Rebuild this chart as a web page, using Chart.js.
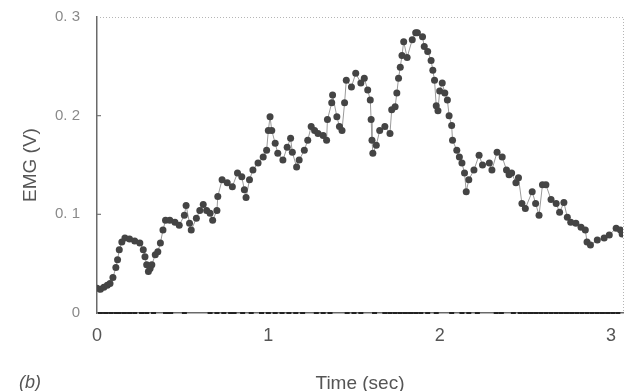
<!DOCTYPE html>
<html>
<head>
<meta charset="utf-8">
<script src="https://cdn.jsdelivr.net/npm/chart.js@4"></script>
<style>
  html, body { margin: 0; padding: 0; background: #fff; }
  #emgChart { display: block; }
</style>
</head>
<body>
<canvas id="emgChart" width="629" height="391"></canvas>
<script>
// EMG trace (time in sec, amplitude in V)
const times = [0.00, 0.02, 0.04, 0.06, 0.076, 0.093, 0.11, 0.12, 0.13, 0.145, 0.163, 0.19, 0.22, 0.25, 0.27, 0.28, 0.29, 0.30, 0.31, 0.32,
  0.34, 0.355, 0.37, 0.385, 0.40, 0.425, 0.455, 0.48, 0.51, 0.52, 0.54, 0.55, 0.58, 0.60, 0.62, 0.64, 0.66, 0.675, 0.70, 0.705,
  0.73, 0.76, 0.79, 0.82, 0.845, 0.86, 0.87, 0.89, 0.91, 0.94, 0.97, 0.99, 1.00, 1.01, 1.02, 1.04, 1.055, 1.085, 1.11, 1.13,
  1.14, 1.165, 1.18, 1.21, 1.23, 1.25, 1.27, 1.29, 1.32, 1.34, 1.345, 1.37, 1.375, 1.40, 1.415, 1.43, 1.445, 1.455, 1.485, 1.51,
  1.54, 1.56, 1.58, 1.595, 1.60, 1.605, 1.61, 1.63, 1.65, 1.68, 1.71, 1.72, 1.74, 1.75, 1.76, 1.77, 1.78, 1.79, 1.81, 1.84,
  1.86, 1.87, 1.90, 1.91, 1.93, 1.95, 1.96, 1.97, 1.98, 1.99, 2.00, 2.015, 2.03, 2.045, 2.055, 2.07, 2.075, 2.10, 2.115, 2.13,
  2.145, 2.155, 2.17, 2.20, 2.23, 2.25, 2.29, 2.305, 2.335, 2.365, 2.39, 2.405, 2.42, 2.445, 2.46, 2.48, 2.50, 2.54, 2.56, 2.58,
  2.60, 2.62, 2.65, 2.68, 2.70, 2.725, 2.745, 2.765, 2.795, 2.825, 2.85, 2.86, 2.88, 2.92, 2.96, 2.99, 3.03, 3.055, 3.065];
const emg = [0.025, 0.024, 0.026, 0.028, 0.030, 0.036, 0.046, 0.054, 0.064, 0.072, 0.076, 0.075, 0.073, 0.071, 0.064, 0.057, 0.049, 0.042, 0.045, 0.049,
  0.059, 0.062, 0.071, 0.084, 0.094, 0.094, 0.092, 0.089, 0.099, 0.109, 0.091, 0.084, 0.096, 0.104, 0.110, 0.104, 0.101, 0.094, 0.104, 0.118,
  0.135, 0.132, 0.128, 0.142, 0.138, 0.125, 0.117, 0.135, 0.145, 0.152, 0.158, 0.165, 0.185, 0.199, 0.185, 0.172, 0.162, 0.155, 0.168, 0.177,
  0.163, 0.148, 0.155, 0.165, 0.175, 0.189, 0.185, 0.182, 0.180, 0.175, 0.196, 0.213, 0.221, 0.199, 0.189, 0.185, 0.213, 0.236, 0.229, 0.243,
  0.233, 0.238, 0.226, 0.216, 0.196, 0.175, 0.162, 0.170, 0.185, 0.189, 0.182, 0.206, 0.209, 0.223, 0.238, 0.249, 0.261, 0.275, 0.259, 0.277,
  0.284, 0.284, 0.280, 0.270, 0.265, 0.256, 0.246, 0.236, 0.210, 0.205, 0.225, 0.233, 0.223, 0.216, 0.200, 0.190, 0.175, 0.165, 0.158, 0.152,
  0.142, 0.123, 0.135, 0.145, 0.160, 0.150, 0.152, 0.145, 0.163, 0.158, 0.145, 0.140, 0.142, 0.132, 0.137, 0.111, 0.106, 0.123, 0.111, 0.099,
  0.130, 0.130, 0.115, 0.111, 0.102, 0.112, 0.097, 0.092, 0.091, 0.087, 0.084, 0.072, 0.069, 0.074, 0.076, 0.079, 0.086, 0.084, 0.080];

// short marks sitting on the time axis
const eventTimes = [0.02, 0.05, 0.08, 0.11, 0.13, 0.16, 0.19, 0.22, 0.26, 0.29, 0.33, 0.40, 0.42, 0.43, 0.51,
  0.66, 0.70, 0.74, 0.78, 0.80, 0.85, 0.90, 0.96, 1.00, 1.04, 1.08, 1.12, 1.16, 1.20, 1.28, 1.32, 1.36,
  1.46, 1.50, 1.54, 1.62, 1.68, 1.71, 1.74, 1.77, 1.80, 1.83, 1.86, 1.89, 1.93, 1.98, 2.07, 2.13, 2.17, 2.22,
  2.33, 2.36, 2.43, 2.47, 2.50, 2.53, 2.56, 2.59, 2.62, 2.65, 2.68, 2.71, 2.74, 2.77, 2.80, 2.83, 2.86,
  2.89, 2.92, 2.95, 2.98, 3.01, 3.04];

const xTickValues = [0, 1, 2, 3];
const yTickValues = [0, 0.1, 0.2, 0.3];
const yTickLabels = ["0", "0. 1", "0. 2", "0. 3"];

const emgPoints = times.map((t, i) => ({ x: t, y: emg[i] }));
const eventPoints = eventTimes.map(t => ({ x: t, y: 0 }));

// dotted top/right frame, inner y ticks, panel letter
const framePlugin = {
  id: "frame",
  afterDraw(c) {
    const { ctx, chartArea: a, scales } = c;
    ctx.save();
    ctx.strokeStyle = "#b5b5b5";
    ctx.lineWidth = 1;
    ctx.setLineDash([1, 2]);
    ctx.beginPath();
    ctx.moveTo(a.left, a.top + 0.5);
    ctx.lineTo(a.right + 0.5, a.top + 0.5);
    ctx.lineTo(a.right + 0.5, a.bottom);
    ctx.stroke();
    ctx.setLineDash([]);
    ctx.strokeStyle = "#777";
    ctx.lineWidth = 1.2;
    yTickValues.slice(1, 3).forEach(v => {
      const py = scales.y.getPixelForValue(v);
      ctx.beginPath();
      ctx.moveTo(a.left, py);
      ctx.lineTo(a.left + 4, py);
      ctx.stroke();
    });
    ctx.fillStyle = "#555";
    ctx.font = "italic 18px 'Liberation Sans', Arial, sans-serif";
    ctx.textBaseline = "middle";
    ctx.fillText("(b)", 19, 383);
    ctx.restore();
  }
};

const config = {
  type: "scatter",
  data: {
    datasets: [
      {
        label: "EMG",
        data: emgPoints,
        showLine: true,
        borderColor: "#9a9a9a",
        borderWidth: 1,
        pointRadius: 3.5,
        pointStyle: "circle",
        pointBackgroundColor: "#444",
        pointBorderColor: "#444",
        pointBorderWidth: 0,
        tension: 0
      },
      {
        label: "events",
        data: eventPoints,
        showLine: false,
        pointStyle: "line",
        pointRadius: 2.5,
        pointBorderColor: "#222",
        pointBorderWidth: 2,
        clip: false
      }
    ]
  },
  options: {
    responsive: false,
    animation: false,
    layout: { padding: { top: 17, right: 6, left: 0, bottom: 0 } },
    plugins: { legend: { display: false }, tooltip: { enabled: false } },
    scales: {
      x: {
        type: "linear",
        min: 0,
        max: 3.07,
        afterBuildTicks: s => { s.ticks = xTickValues.map(v => ({ value: v })); },
        afterFit: s => { s.height = 78; },
        grid: { drawOnChartArea: false, drawTicks: false },
        border: { display: true, color: "#6a6a6a", width: 1.5 },
        ticks: {
          padding: 12,
          color: "#555",
          font: { family: "'Liberation Sans', Arial, sans-serif", size: 18 },
          maxRotation: 0
        },
        title: {
          display: true,
          text: "Time (sec)",
          color: "#555",
          font: { family: "'Liberation Sans', Arial, sans-serif", size: 19, lineHeight: 0.8 },
          padding: { top: 0, bottom: 0 }
        }
      },
      y: {
        min: 0,
        max: 0.3,
        afterBuildTicks: s => { s.ticks = yTickValues.map(v => ({ value: v })); },
        afterFit: s => { s.width = 97; s.paddingTop = 0; s.paddingBottom = 0; },
        grid: { drawOnChartArea: false, drawTicks: false },
        border: { display: true, color: "#6a6a6a", width: 1.5 },
        ticks: {
          padding: 17,
          color: "#8a8a8a",
          font: { family: "'Liberation Sans', Arial, sans-serif", size: 15 },
          callback: (v, i) => yTickLabels[i]
        },
        title: {
          display: true,
          text: "EMG (V)",
          color: "#555",
          font: { family: "'Liberation Sans', Arial, sans-serif", size: 19 },
          padding: { top: 19, bottom: 0 }
        }
      }
    }
  },
  plugins: [framePlugin]
};

window.onload = function () {
  const myChart = document.getElementById("emgChart");
  new Chart(myChart, config);
};
</script>
</body>
</html>
